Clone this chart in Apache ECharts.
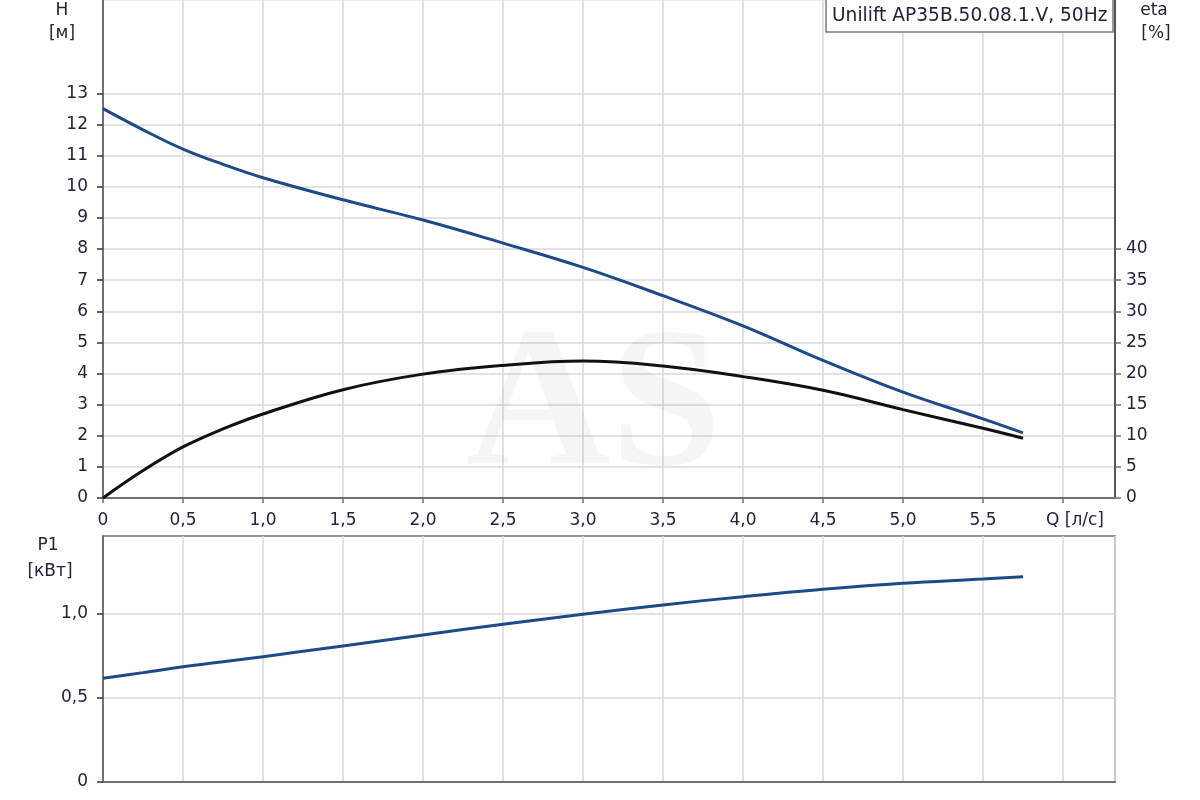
<!DOCTYPE html>
<html><head><meta charset="utf-8">
<script src="https://cdn.jsdelivr.net/npm/echarts@6.0.0/dist/echarts.min.js"></script>
<style>html,body{margin:0;padding:0;background:#fff}#c{width:1200px;height:800px}</style>
</head><body><div id="c"></div>
<script>
// Flow rate Q [l/s]
const flowQ = [0, 0.25, 0.5, 0.75, 1.0, 1.5, 2.0, 2.5, 3.0, 3.5, 4.0, 4.5, 5.0, 5.5, 5.75];
// Head H [m]
const headH = [12.51, 11.83, 11.21, 10.72, 10.29, 9.58, 8.93, 8.19, 7.41, 6.50, 5.53, 4.42, 3.40, 2.54, 2.09];
// Efficiency eta [%]
const etaPct = [0, 4.4, 8.2, 11.1, 13.5, 17.4, 19.9, 21.3, 22.0, 21.2, 19.5, 17.3, 14.2, 11.2, 9.6];
// Power P1 [kW]
const powerP1 = [0.617, 0.651, 0.686, 0.716, 0.746, 0.810, 0.875, 0.939, 0.998, 1.054, 1.103, 1.147, 1.183, 1.208, 1.222];

// Tick labels
const xTickValues = [0, 0.5, 1.0, 1.5, 2.0, 2.5, 3.0, 3.5, 4.0, 4.5, 5.0, 5.5];
const xTickLabels = ['0', '0,5', '1,0', '1,5', '2,0', '2,5', '3,0', '3,5', '4,0', '4,5', '5,0', '5,5'];
const xAxisName = 'Q [л/с]';
const hTickValues = [0, 1, 2, 3, 4, 5, 6, 7, 8, 9, 10, 11, 12, 13];
const etaTickValues = [0, 5, 10, 15, 20, 25, 30, 35, 40];
const p1TickValues = [0, 0.5, 1.0];
const p1TickLabels = ['0', '0,5', '1,0'];

const titleText = 'Unilift AP35B.50.08.1.V, 50Hz';

const pair = (xs, ys) => xs.map((x, i) => [x, ys[i]]);
const txtColor = '#23233a';
const gridColor = '#d9d9d9';
const axisColor = '#707070';
const font = '"DejaVu Sans", Verdana, sans-serif';
const lblFont = '17px "DejaVu Sans", Verdana, sans-serif';

function xLabel(v) {
  for (let i = 0; i < xTickValues.length; i++) {
    if (Math.abs(v - xTickValues[i]) < 1e-6) return xTickLabels[i];
  }
  return '';
}
function p1Label(v) {
  for (let i = 0; i < p1TickValues.length; i++) {
    if (Math.abs(v - p1TickValues[i]) < 1e-6) return p1TickLabels[i];
  }
  return '';
}

const chart = echarts.init(document.getElementById('c'), null, {renderer: 'canvas'});
chart.setOption({
  backgroundColor: '#fff',
  animation: false,
  textStyle: {fontFamily: font},
  grid: [
    {left: 103, width: 1012, top: -1, height: 499, show: true, borderColor: gridColor, borderWidth: 1},
    {left: 103, width: 1012, top: 536, height: 246, show: true, borderColor: axisColor, borderWidth: 1.5}
  ],
  xAxis: [
    {
      type: 'value', gridIndex: 0, min: 0, max: 6.325, interval: 0.5,
      axisLine: {show: true, lineStyle: {color: axisColor, width: 2}},
      axisTick: {show: true, length: 5, lineStyle: {color: axisColor, width: 1.5}},
      axisLabel: {formatter: xLabel, color: txtColor, fontSize: 17, margin: 14, fontFamily: font, showMaxLabel: false},
      splitLine: {show: true, lineStyle: {color: gridColor, width: 1.5}}
    },
    {
      type: 'value', gridIndex: 1, min: 0, max: 6.325, interval: 0.5,
      axisLine: {show: true, lineStyle: {color: axisColor, width: 2}},
      axisTick: {show: false},
      axisLabel: {show: false},
      splitLine: {show: true, lineStyle: {color: gridColor, width: 1.5}}
    }
  ],
  yAxis: [
    {
      type: 'value', gridIndex: 0, min: 0, max: 16, interval: 1, position: 'left',
      axisLine: {show: true, lineStyle: {color: axisColor, width: 2}},
      axisTick: {show: true, length: 6, customValues: hTickValues, lineStyle: {color: '#333', width: 1.5}},
      axisLabel: {customValues: hTickValues, color: txtColor, fontSize: 17, margin: 15, fontFamily: font},
      splitLine: {show: true, lineStyle: {color: gridColor, width: 1.5}}
    },
    {
      type: 'value', gridIndex: 0, min: 0, max: 80, interval: 5, position: 'right',
      axisLine: {show: true, lineStyle: {color: '#555', width: 2}},
      axisTick: {show: true, length: 6, customValues: etaTickValues, lineStyle: {color: axisColor, width: 1.5}},
      axisLabel: {customValues: etaTickValues, color: txtColor, fontSize: 17, margin: 11, fontFamily: font},
      splitLine: {show: false}
    },
    {
      type: 'value', gridIndex: 1, min: 0, max: 1.464, interval: 0.5, position: 'left',
      axisLine: {show: true, lineStyle: {color: axisColor, width: 2}},
      axisTick: {show: true, length: 6, customValues: p1TickValues, lineStyle: {color: '#333', width: 1.5}},
      axisLabel: {customValues: p1TickValues, formatter: p1Label, color: txtColor, fontSize: 17, margin: 15, fontFamily: font},
      splitLine: {show: true, lineStyle: {color: gridColor, width: 1.5}}
    }
  ],
  series: [
    {
      name: 'H', type: 'line', xAxisIndex: 0, yAxisIndex: 0, data: pair(flowQ, headH),
      smooth: 0.4, showSymbol: false, z: 5,
      lineStyle: {color: '#1c4b87', width: 3}
    },
    {
      name: 'eta', type: 'line', xAxisIndex: 0, yAxisIndex: 1, data: pair(flowQ, etaPct),
      smooth: 0.4, showSymbol: false, z: 4,
      lineStyle: {color: '#111111', width: 3}
    },
    {
      name: 'P1', type: 'line', xAxisIndex: 1, yAxisIndex: 2, data: pair(flowQ, powerP1),
      smooth: 0.4, showSymbol: false, z: 5,
      lineStyle: {color: '#1c4b87', width: 3}
    }
  ],
  graphic: [
    {type: 'text', z: 1, left: 466, top: 312,
     style: {text: 'AS', font: 'bold 200px "Liberation Serif", "DejaVu Serif", serif', fill: 'rgba(0,0,0,0.04)'}},
    {type: 'rect', z: 10, shape: {x: 826, y: -1, width: 287, height: 33},
     style: {fill: '#fff', stroke: '#7a7a7a', lineWidth: 1.5}},
    {type: 'text', z: 11, x: 832, y: 16,
     style: {text: titleText, font: '18.6px "DejaVu Sans", Verdana, sans-serif', fill: txtColor, textVerticalAlign: 'middle', textAlign: 'left'}},
    {type: 'text', z: 11, x: 1046, y: 521, style: {text: xAxisName, font: lblFont, fill: txtColor, textAlign: 'left', textVerticalAlign: 'middle'}},
    {type: 'text', z: 11, x: 62, y: 11, style: {text: 'H', font: lblFont, fill: txtColor, textAlign: 'center', textVerticalAlign: 'middle'}},
    {type: 'text', z: 11, x: 62, y: 34, style: {text: '[м]', font: lblFont, fill: txtColor, textAlign: 'center', textVerticalAlign: 'middle'}},
    {type: 'text', z: 11, x: 1154, y: 11, style: {text: 'eta', font: lblFont, fill: txtColor, textAlign: 'center', textVerticalAlign: 'middle'}},
    {type: 'text', z: 11, x: 1156, y: 34, style: {text: '[%]', font: lblFont, fill: txtColor, textAlign: 'center', textVerticalAlign: 'middle'}},
    {type: 'text', z: 11, x: 48, y: 546, style: {text: 'P1', font: lblFont, fill: txtColor, textAlign: 'center', textVerticalAlign: 'middle'}},
    {type: 'text', z: 11, x: 50, y: 572, style: {text: '[кВт]', font: lblFont, fill: txtColor, textAlign: 'center', textVerticalAlign: 'middle'}}
  ]
});
</script></body></html>
